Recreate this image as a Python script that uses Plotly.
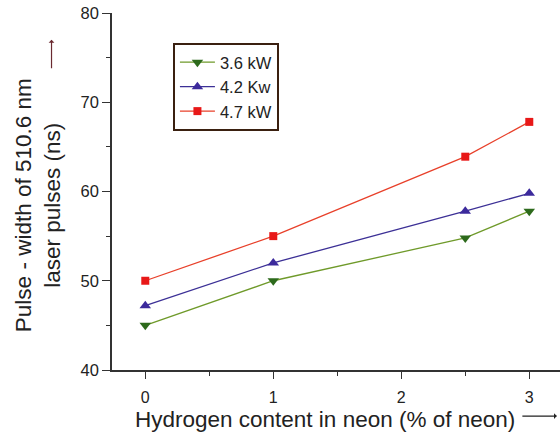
import plotly.graph_objects as go

x_vals = [0, 1, 2.5, 3]
y_36 = [45.0, 50.0, 54.8, 57.8]
y_42 = [47.2, 52.0, 57.8, 59.8]
y_47 = [50.0, 55.0, 63.9, 67.8]
names = ["3.6 kW", "4.2 Kw", "4.7 kW"]
x_ticks = [0, 1, 2, 3]
y_ticks = [40, 50, 60, 70, 80]

font = "Liberation Sans, Arial, sans-serif"

fig = go.Figure()
fig.add_trace(go.Scatter(x=x_vals, y=y_36, name=names[0], mode="lines+markers",
                         line=dict(color="#6f9a2a", width=1.3),
                         marker=dict(symbol="triangle-down", size=10, color="#2d6a1c")))
fig.add_trace(go.Scatter(x=x_vals, y=y_42, name=names[1], mode="lines+markers",
                         line=dict(color="#3c3096", width=1.3),
                         marker=dict(symbol="triangle-up", size=10, color="#3c2a9c")))
fig.add_trace(go.Scatter(x=x_vals, y=y_47, name=names[2], mode="lines+markers",
                         line=dict(color="#e8402a", width=1.3),
                         marker=dict(symbol="square", size=8, color="#e81818")))

fig.update_layout(
    width=560, height=436,
    margin=dict(l=112, r=0, t=13, b=66),
    paper_bgcolor="white", plot_bgcolor="white",
    font=dict(family=font, size=16, color="#222"),
    showlegend=True,
    legend=dict(x=0.136, y=0.916, xanchor="left", yanchor="top",
                bordercolor="#3a2010", borderwidth=2, bgcolor="white",
                font=dict(size=16.5), tracegroupgap=0, itemwidth=35),
    xaxis=dict(range=[-0.26, 3.24], tickvals=x_ticks, ticks="outside", ticklen=7,
               tickwidth=1.3, tickcolor="#333", showline=True, linecolor="#333", linewidth=1.5,
               showgrid=False, zeroline=False, tickfont=dict(size=16), ticklabelstandoff=5,
               minor=dict(dtick=0.5, tick0=0, ticks="outside", ticklen=4, tickcolor="#333", showgrid=False)),
    yaxis=dict(range=[40, 80], tickvals=y_ticks, ticks="outside", ticklen=8,
               tickwidth=1.3, tickcolor="#333", showline=True, linecolor="#333", linewidth=1.5,
               showgrid=False, zeroline=False, tickfont=dict(size=16.5),
               minor=dict(dtick=5, tick0=40, ticks="outside", ticklen=4, tickcolor="#333", showgrid=False)),
)

# y-axis title
fig.add_annotation(xref="paper", yref="paper", x=-0.165, y=0.462, xanchor="center", yanchor="middle",
                   text="Pulse - width of 510.6 nm<br>laser pulses (ns)", textangle=-90,
                   showarrow=False, font=dict(size=22.5, color="#222"))
fig.add_annotation(xref="paper", yref="paper", x=-0.135, y=0.925, ax=0, ay=30,
                   text="", showarrow=True, arrowhead=1, arrowsize=0.8, arrowwidth=1.2,
                   arrowcolor="#6a2a30")
# x-axis title
fig.add_annotation(xref="paper", yref="paper", x=0.475, y=-0.140, xanchor="center", yanchor="middle",
                   text="Hydrogen content in neon (% of neon)", showarrow=False,
                   font=dict(size=22.5, color="#222"))
fig.add_annotation(xref="paper", yref="paper", x=0.993, y=-0.129, ax=-36, ay=0,
                   text="", showarrow=True, arrowhead=1, arrowsize=0.8, arrowwidth=1.2,
                   arrowcolor="#222")

fig.write_html("out.html")
